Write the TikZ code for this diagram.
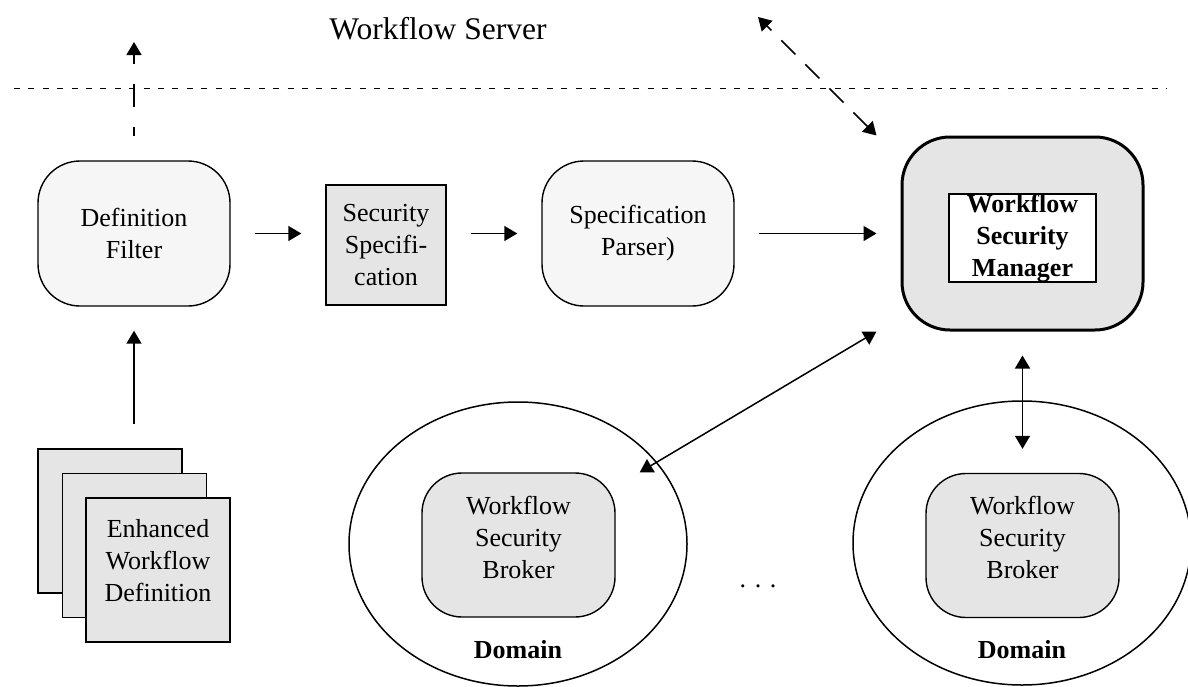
\documentclass[tikz,border=0pt]{standalone}
\usepackage{fontspec}
\setmainfont{Liberation Serif}
\usetikzlibrary{arrows.meta,shapes.geometric,calc}
\definecolor{lightfill}{HTML}{F6F6F6}
\definecolor{midfill}{HTML}{E5E5E5}
\begin{document}
\begin{tikzpicture}[x=0.5pt,y=-0.5pt,
  txt/.style={font=\fontsize{13pt}{16pt}\selectfont, align=center, inner sep=0pt},
  softbox/.style={txt, draw, line width=0.7pt, rounded corners=21pt, fill=lightfill, minimum width=96pt, minimum height=72.5pt},
  specbox/.style={txt, draw, line width=0.7pt, fill=midfill, minimum width=60pt, minimum height=60pt},
  mgrbox/.style={draw, line width=1.5pt, rounded corners=24pt, fill=midfill, minimum width=120.5pt, minimum height=96.5pt, inner sep=0pt},
  innerbox/.style={txt, font=\fontsize{13pt}{16pt}\selectfont\bfseries, draw, line width=1.2pt, fill=white, minimum width=73.5pt, minimum height=44pt},
  domainell/.style={draw, ellipse, line width=0.75pt, minimum width=169pt, minimum height=142pt, inner sep=0pt},
  brokerbox/.style={draw, line width=0.7pt, rounded corners=20pt, fill=midfill, minimum width=96.5pt, minimum height=72pt, inner sep=0pt},
  pagebox/.style={draw, line width=0.7pt, fill=midfill, minimum width=72pt, minimum height=72pt, inner sep=0pt},
  domlabel/.style={txt, font=\fontsize{13pt}{16pt}\selectfont\bfseries, anchor=base},
  titlelbl/.style={font=\fontsize{15.75pt}{19pt}\selectfont, anchor=base, inner sep=0pt},
  >={Triangle[length=6.5pt,width=7.5pt]},
  conn/.style={line width=0.75pt, shorten <=12pt, shorten >=12pt},
  dotline/.style={line width=0.5pt, dash pattern=on 3pt off 4.2pt},
]
\useasboundingbox (0,0) rectangle (1188,686);

% title and separator
\node[titlelbl] (ws) at (438,39) {Workflow Server};
\coordinate (dl) at (14,88);
\coordinate (dr) at (1167,88);
\draw[dotline] (dl) -- (dr);

% top row
\node[softbox] (df) at (134,233.5) {Definition\\Filter};
\node[specbox] (ss) at (386,245) {Security\\Specifi-\\cation};
\node[softbox] (sp) at (638,233.5) {Specification\\Parser)};
\node[mgrbox] (wsm) at (1022.5,233.5) {};
\node[innerbox] (wsmin) at (1022.5,238) {Workflow\\Security\\Manager};

% domains
\node[domainell] (dom1) at (518,544) {};
\node[domainell] (dom2) at (1022,543) {};
\node[brokerbox] (br1) at (518.5,545) {};
\node[brokerbox] (br2) at (1022.5,545.5) {};
\node[txt] (br1t) at (518.5,537) {Workflow\\Security\\Broker};
\node[txt] (br2t) at (1022.5,537.5) {Workflow\\Security\\Broker};
\node[domlabel] (dom1t) at (518,658) {Domain};
\node[domlabel] (dom2t) at (1022,658) {Domain};
\node[txt, anchor=base] (dots) at (758,587) {. . .};

% stacked pages
\node[pagebox] (pg1) at (110,521) {};
\node[pagebox] (pg2) at (134.5,545.5) {};
\node[pagebox] (pg3) at (158,570) {};
\node[txt] (pgt) at (158,561) {Enhanced\\Workflow\\Definition};

% connectors
\draw[conn,->] (df.east) -- (df.east -| ss.west);
\draw[conn,->] (ss.east |- df.east) -- (sp.west);
\draw[conn,->] (sp.east) -- (wsm.west);
\draw[conn,->] (df.south |- pg1.north) -- (df.south);
\coordinate (upend) at (134,42);
\draw[conn,->, shorten >=0pt, dash pattern=on 11.5pt off 10pt, dash phase=7pt] (df.north) -- (upend);
\coordinate (topend) at (758,17);
\draw[line width=0.75pt,<->, dash pattern=on 10pt off 7pt] ($(wsm.north west)+(-24,0)$) -- (topend);
\draw[line width=0.75pt,<->] ($(br1.north east)+(24,0)$) -- ($(wsm.south west)+(-24,0)$);
\draw[conn,<->] (wsm.south) -- (br2.north);
\end{tikzpicture}
\end{document}
